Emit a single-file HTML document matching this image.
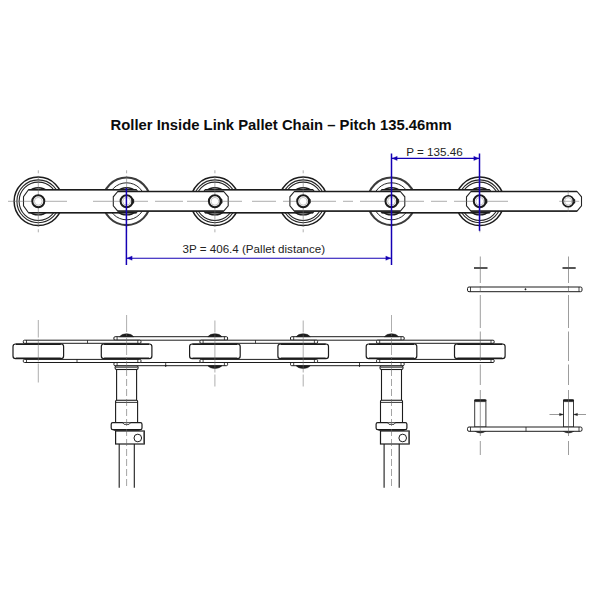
<!DOCTYPE html>
<html lang="en"><head><meta charset="utf-8"><title>Roller Inside Link Pallet Chain</title>
<style>
html,body{margin:0;padding:0;background:#fff;}
body{width:600px;height:600px;overflow:hidden;position:relative;font-family:"Liberation Sans",Arial,sans-serif;color:#111;}
svg{position:absolute;left:0;top:0;display:block}
.t{position:absolute;white-space:nowrap;line-height:1;}
#title{left:110.5px;top:118px;font-size:14.83px;font-weight:bold;color:#0c0c0c;}
#d1{left:406.3px;top:146.1px;font-size:11.65px;color:#222;}
#d2{left:182.6px;top:243.2px;font-size:11.6px;color:#222;}
</style></head><body>
<svg width="600" height="600" viewBox="0 0 600 600">
<rect width="600" height="600" fill="#fff"/>
<g id="topview">
<circle cx="38.30" cy="201.30" r="24.2" stroke="#1c1c1c" stroke-width="1.5" fill="#fff"/>
<circle cx="38.30" cy="201.30" r="21.4" stroke="#262626" stroke-width="1.1" fill="none"/>
<circle cx="38.30" cy="201.30" r="19.2" stroke="#262626" stroke-width="1.1" fill="none"/>
<circle cx="38.30" cy="201.30" r="13.6" stroke="#1c1c1c" stroke-width="1.4" fill="none"/>
<circle cx="126.60" cy="201.30" r="23.8" stroke="#3c3c3c" stroke-width="2.1" fill="#fff"/>
<circle cx="126.60" cy="201.30" r="18.5" stroke="#2a2a2a" stroke-width="1.0" fill="none"/>
<circle cx="126.60" cy="201.30" r="13.6" stroke="#1c1c1c" stroke-width="1.4" fill="none"/>
<circle cx="214.90" cy="201.30" r="24.2" stroke="#1c1c1c" stroke-width="1.5" fill="#fff"/>
<circle cx="214.90" cy="201.30" r="21.4" stroke="#262626" stroke-width="1.1" fill="none"/>
<circle cx="214.90" cy="201.30" r="19.2" stroke="#262626" stroke-width="1.1" fill="none"/>
<circle cx="214.90" cy="201.30" r="13.6" stroke="#1c1c1c" stroke-width="1.4" fill="none"/>
<circle cx="303.20" cy="201.30" r="24.2" stroke="#1c1c1c" stroke-width="1.5" fill="#fff"/>
<circle cx="303.20" cy="201.30" r="21.4" stroke="#262626" stroke-width="1.1" fill="none"/>
<circle cx="303.20" cy="201.30" r="19.2" stroke="#262626" stroke-width="1.1" fill="none"/>
<circle cx="303.20" cy="201.30" r="13.6" stroke="#1c1c1c" stroke-width="1.4" fill="none"/>
<circle cx="391.50" cy="201.30" r="23.8" stroke="#3c3c3c" stroke-width="2.1" fill="#fff"/>
<circle cx="391.50" cy="201.30" r="18.5" stroke="#2a2a2a" stroke-width="1.0" fill="none"/>
<circle cx="391.50" cy="201.30" r="13.6" stroke="#1c1c1c" stroke-width="1.4" fill="none"/>
<circle cx="479.80" cy="201.30" r="24.2" stroke="#1c1c1c" stroke-width="1.5" fill="#fff"/>
<circle cx="479.80" cy="201.30" r="21.4" stroke="#262626" stroke-width="1.1" fill="none"/>
<circle cx="479.80" cy="201.30" r="19.2" stroke="#262626" stroke-width="1.1" fill="none"/>
<circle cx="479.80" cy="201.30" r="13.6" stroke="#1c1c1c" stroke-width="1.4" fill="none"/>
<path d="M28.50,189.80 L136.40,189.80 L141.40,196.80 L141.40,205.80 L136.40,212.80 L28.50,212.80 L23.50,205.80 L23.50,196.80 Z" stroke="#262626" stroke-width="1.1" fill="#fff" />
<line x1="28.50" y1="189.80" x2="136.40" y2="189.80" stroke="#1c1c1c" stroke-width="1.5" />
<line x1="28.50" y1="212.80" x2="136.40" y2="212.80" stroke="#1c1c1c" stroke-width="1.5" />
<path d="M205.10,189.80 L313.00,189.80 L318.00,196.80 L318.00,205.80 L313.00,212.80 L205.10,212.80 L200.10,205.80 L200.10,196.80 Z" stroke="#262626" stroke-width="1.1" fill="#fff" />
<line x1="205.10" y1="189.80" x2="313.00" y2="189.80" stroke="#1c1c1c" stroke-width="1.5" />
<line x1="205.10" y1="212.80" x2="313.00" y2="212.80" stroke="#1c1c1c" stroke-width="1.5" />
<path d="M381.70,189.80 L489.60,189.80 L494.60,196.80 L494.60,205.80 L489.60,212.80 L381.70,212.80 L376.70,205.80 L376.70,196.80 Z" stroke="#262626" stroke-width="1.1" fill="#fff" />
<line x1="381.70" y1="189.80" x2="489.60" y2="189.80" stroke="#1c1c1c" stroke-width="1.5" />
<line x1="381.70" y1="212.80" x2="489.60" y2="212.80" stroke="#1c1c1c" stroke-width="1.5" />
<path d="M117.80,191.50 L223.70,191.50 L228.20,196.80 L228.20,205.80 L223.70,211.10 L117.80,211.10 L113.30,205.80 L113.30,196.80 Z" stroke="#262626" stroke-width="1.1" fill="#fff" />
<line x1="117.80" y1="191.50" x2="223.70" y2="191.50" stroke="#1c1c1c" stroke-width="1.4" />
<line x1="117.80" y1="211.10" x2="223.70" y2="211.10" stroke="#1c1c1c" stroke-width="1.4" />
<path d="M294.40,191.50 L400.30,191.50 L404.80,196.80 L404.80,205.80 L400.30,211.10 L294.40,211.10 L289.90,205.80 L289.90,196.80 Z" stroke="#262626" stroke-width="1.1" fill="#fff" />
<line x1="294.40" y1="191.50" x2="400.30" y2="191.50" stroke="#1c1c1c" stroke-width="1.4" />
<line x1="294.40" y1="211.10" x2="400.30" y2="211.10" stroke="#1c1c1c" stroke-width="1.4" />
<path d="M471.00,191.50 L577.00,191.50 L581.50,196.80 L581.50,205.80 L577.00,211.10 L471.00,211.10 L466.50,205.80 L466.50,196.80 Z" stroke="#262626" stroke-width="1.1" fill="#fff" />
<line x1="471.00" y1="191.50" x2="577.00" y2="191.50" stroke="#1c1c1c" stroke-width="1.4" />
<line x1="471.00" y1="211.10" x2="577.00" y2="211.10" stroke="#1c1c1c" stroke-width="1.4" />
<line x1="8.00" y1="201.30" x2="67.00" y2="201.30" stroke="#6a6a6a" stroke-width="0.55" />
<line x1="93.00" y1="201.30" x2="148.00" y2="201.30" stroke="#6a6a6a" stroke-width="0.55" />
<line x1="155.00" y1="201.30" x2="183.00" y2="201.30" stroke="#6a6a6a" stroke-width="0.55" />
<line x1="187.00" y1="201.30" x2="242.00" y2="201.30" stroke="#6a6a6a" stroke-width="0.55" />
<line x1="252.00" y1="201.30" x2="276.00" y2="201.30" stroke="#6a6a6a" stroke-width="0.55" />
<line x1="283.00" y1="201.30" x2="336.00" y2="201.30" stroke="#6a6a6a" stroke-width="0.55" />
<line x1="343.00" y1="201.30" x2="353.00" y2="201.30" stroke="#6a6a6a" stroke-width="0.55" />
<line x1="360.00" y1="201.30" x2="424.00" y2="201.30" stroke="#6a6a6a" stroke-width="0.55" />
<line x1="431.00" y1="201.30" x2="447.00" y2="201.30" stroke="#6a6a6a" stroke-width="0.55" />
<line x1="454.00" y1="201.30" x2="508.00" y2="201.30" stroke="#6a6a6a" stroke-width="0.55" />
<line x1="38.30" y1="175.80" x2="38.30" y2="226.80" stroke="#6a6a6a" stroke-width="0.55" />
<line x1="38.30" y1="170.30" x2="38.30" y2="173.30" stroke="#6a6a6a" stroke-width="0.55" />
<line x1="38.30" y1="229.30" x2="38.30" y2="232.30" stroke="#6a6a6a" stroke-width="0.55" />
<line x1="126.60" y1="175.80" x2="126.60" y2="226.80" stroke="#6a6a6a" stroke-width="0.55" />
<line x1="126.60" y1="170.30" x2="126.60" y2="173.30" stroke="#6a6a6a" stroke-width="0.55" />
<line x1="126.60" y1="229.30" x2="126.60" y2="232.30" stroke="#6a6a6a" stroke-width="0.55" />
<line x1="214.90" y1="175.80" x2="214.90" y2="226.80" stroke="#6a6a6a" stroke-width="0.55" />
<line x1="214.90" y1="170.30" x2="214.90" y2="173.30" stroke="#6a6a6a" stroke-width="0.55" />
<line x1="214.90" y1="229.30" x2="214.90" y2="232.30" stroke="#6a6a6a" stroke-width="0.55" />
<line x1="303.20" y1="175.80" x2="303.20" y2="226.80" stroke="#6a6a6a" stroke-width="0.55" />
<line x1="303.20" y1="170.30" x2="303.20" y2="173.30" stroke="#6a6a6a" stroke-width="0.55" />
<line x1="303.20" y1="229.30" x2="303.20" y2="232.30" stroke="#6a6a6a" stroke-width="0.55" />
<line x1="391.50" y1="175.80" x2="391.50" y2="226.80" stroke="#6a6a6a" stroke-width="0.55" />
<line x1="391.50" y1="170.30" x2="391.50" y2="173.30" stroke="#6a6a6a" stroke-width="0.55" />
<line x1="391.50" y1="229.30" x2="391.50" y2="232.30" stroke="#6a6a6a" stroke-width="0.55" />
<line x1="479.80" y1="175.80" x2="479.80" y2="226.80" stroke="#6a6a6a" stroke-width="0.55" />
<line x1="479.80" y1="170.30" x2="479.80" y2="173.30" stroke="#6a6a6a" stroke-width="0.55" />
<line x1="479.80" y1="229.30" x2="479.80" y2="232.30" stroke="#6a6a6a" stroke-width="0.55" />
<line x1="568.20" y1="190.00" x2="568.20" y2="212.00" stroke="#6a6a6a" stroke-width="0.5" />
<circle cx="38.30" cy="201.30" r="6.0" stroke="#1c1c1c" stroke-width="2.0" fill="#fff"/>
<circle cx="38.30" cy="201.30" r="3.9" stroke="#888" stroke-width="0.5" fill="none"/>
<circle cx="126.60" cy="201.30" r="6.0" stroke="#1c1c1c" stroke-width="2.0" fill="#fff"/>
<circle cx="126.60" cy="201.30" r="3.9" stroke="#888" stroke-width="0.5" fill="none"/>
<path d="M131.60,198.30 L133.90,199.50 L133.90,203.10 L131.60,204.30 Z" stroke="#1c1c1c" stroke-width="0.4" fill="#1c1c1c" />
<circle cx="214.90" cy="201.30" r="6.0" stroke="#1c1c1c" stroke-width="2.0" fill="#fff"/>
<circle cx="214.90" cy="201.30" r="3.9" stroke="#888" stroke-width="0.5" fill="none"/>
<path d="M219.90,198.30 L222.20,199.50 L222.20,203.10 L219.90,204.30 Z" stroke="#1c1c1c" stroke-width="0.4" fill="#1c1c1c" />
<circle cx="303.20" cy="201.30" r="6.0" stroke="#1c1c1c" stroke-width="2.0" fill="#fff"/>
<circle cx="303.20" cy="201.30" r="3.9" stroke="#888" stroke-width="0.5" fill="none"/>
<path d="M308.20,198.30 L310.50,199.50 L310.50,203.10 L308.20,204.30 Z" stroke="#1c1c1c" stroke-width="0.4" fill="#1c1c1c" />
<circle cx="391.50" cy="201.30" r="6.0" stroke="#1c1c1c" stroke-width="2.0" fill="#fff"/>
<circle cx="391.50" cy="201.30" r="3.9" stroke="#888" stroke-width="0.5" fill="none"/>
<path d="M396.50,198.30 L398.80,199.50 L398.80,203.10 L396.50,204.30 Z" stroke="#1c1c1c" stroke-width="0.4" fill="#1c1c1c" />
<circle cx="479.80" cy="201.30" r="6.0" stroke="#1c1c1c" stroke-width="2.0" fill="#fff"/>
<circle cx="479.80" cy="201.30" r="3.9" stroke="#888" stroke-width="0.5" fill="none"/>
<path d="M484.80,198.30 L487.10,199.50 L487.10,203.10 L484.80,204.30 Z" stroke="#1c1c1c" stroke-width="0.4" fill="#1c1c1c" />
<circle cx="568.20" cy="201.30" r="5.5" stroke="#1c1c1c" stroke-width="1.6" fill="#fff"/>
<circle cx="568.20" cy="201.30" r="3.7" stroke="#888" stroke-width="0.5" fill="none"/>
<path d="M572.80,198.50 L575.00,199.50 L575.00,203.10 L572.80,204.10 Z" stroke="#1c1c1c" stroke-width="0.4" fill="#1c1c1c" />
<line x1="559.20" y1="201.30" x2="579.20" y2="201.30" stroke="#6a6a6a" stroke-width="0.5" />
</g>
<g id="sideview">
<rect x="115.10" y="365.70" width="23.00" height="3.80" rx="1.5" stroke="#1c1c1c" stroke-width="1.1" fill="#fff"/>
<line x1="115.60" y1="367.20" x2="137.60" y2="367.20" stroke="#1c1c1c" stroke-width="0.9" />
<rect x="116.60" y="369.50" width="20.00" height="31.00" rx="0" stroke="#1c1c1c" stroke-width="1.1" fill="#fff"/>
<rect x="115.60" y="400.30" width="22.00" height="22.40" rx="1" stroke="#1c1c1c" stroke-width="1.1" fill="#fff"/>
<line x1="115.60" y1="402.40" x2="137.60" y2="402.40" stroke="#1c1c1c" stroke-width="0.9" />
<rect x="111.20" y="422.70" width="30.80" height="7.00" rx="1.6" stroke="#1c1c1c" stroke-width="1.2" fill="#fff"/>
<path d="M122.60,422.7 L124.10,424.3 L129.10,424.3 L130.60,422.7" stroke="#1c1c1c" stroke-width="0.9" fill="#fff" />
<rect x="115.60" y="431.00" width="28.70" height="13.00" rx="0" stroke="#1c1c1c" stroke-width="1.2" fill="#fff"/>
<line x1="113.60" y1="430.40" x2="139.60" y2="430.40" stroke="#1c1c1c" stroke-width="0.8" />
<circle cx="137.80" cy="438.00" r="3.8" stroke="#1c1c1c" stroke-width="1.0" fill="#fff"/>
<line x1="143.60" y1="432.00" x2="143.60" y2="443.00" stroke="#666" stroke-width="0.8" />
<line x1="119.20" y1="444.00" x2="119.20" y2="487.70" stroke="#1c1c1c" stroke-width="1.1" />
<line x1="134.30" y1="444.00" x2="134.30" y2="487.70" stroke="#1c1c1c" stroke-width="1.1" />
<line x1="126.60" y1="369.00" x2="126.60" y2="487.00" stroke="#666" stroke-width="0.6" stroke-dasharray="7 3"/>
<rect x="380.00" y="365.70" width="23.00" height="3.80" rx="1.5" stroke="#1c1c1c" stroke-width="1.1" fill="#fff"/>
<line x1="380.50" y1="367.20" x2="402.50" y2="367.20" stroke="#1c1c1c" stroke-width="0.9" />
<rect x="381.50" y="369.50" width="20.00" height="31.00" rx="0" stroke="#1c1c1c" stroke-width="1.1" fill="#fff"/>
<rect x="380.50" y="400.30" width="22.00" height="22.40" rx="1" stroke="#1c1c1c" stroke-width="1.1" fill="#fff"/>
<line x1="380.50" y1="402.40" x2="402.50" y2="402.40" stroke="#1c1c1c" stroke-width="0.9" />
<rect x="376.10" y="422.70" width="30.80" height="7.00" rx="1.6" stroke="#1c1c1c" stroke-width="1.2" fill="#fff"/>
<path d="M387.50,422.7 L389.00,424.3 L394.00,424.3 L395.50,422.7" stroke="#1c1c1c" stroke-width="0.9" fill="#fff" />
<rect x="380.50" y="431.00" width="28.70" height="13.00" rx="0" stroke="#1c1c1c" stroke-width="1.2" fill="#fff"/>
<line x1="378.50" y1="430.40" x2="404.50" y2="430.40" stroke="#1c1c1c" stroke-width="0.8" />
<circle cx="402.70" cy="438.00" r="3.8" stroke="#1c1c1c" stroke-width="1.0" fill="#fff"/>
<line x1="408.50" y1="432.00" x2="408.50" y2="443.00" stroke="#666" stroke-width="0.8" />
<line x1="384.10" y1="444.00" x2="384.10" y2="487.70" stroke="#1c1c1c" stroke-width="1.1" />
<line x1="399.20" y1="444.00" x2="399.20" y2="487.70" stroke="#1c1c1c" stroke-width="1.1" />
<line x1="391.50" y1="369.00" x2="391.50" y2="487.00" stroke="#666" stroke-width="0.6" stroke-dasharray="7 3"/>
<rect x="113.90" y="336.70" width="113.70" height="3.50" rx="1.2" stroke="#1c1c1c" stroke-width="1.0" fill="#fff"/>
<line x1="117.10" y1="336.70" x2="117.10" y2="340.20" stroke="#1c1c1c" stroke-width="0.8" />
<line x1="224.40" y1="336.70" x2="224.40" y2="340.20" stroke="#1c1c1c" stroke-width="0.8" />
<rect x="113.90" y="362.50" width="113.70" height="3.20" rx="1.2" stroke="#1c1c1c" stroke-width="1.0" fill="#fff"/>
<line x1="117.10" y1="362.50" x2="117.10" y2="365.70" stroke="#1c1c1c" stroke-width="0.8" />
<line x1="224.40" y1="362.50" x2="224.40" y2="365.70" stroke="#1c1c1c" stroke-width="0.8" />
<rect x="290.50" y="336.70" width="113.70" height="3.50" rx="1.2" stroke="#1c1c1c" stroke-width="1.0" fill="#fff"/>
<line x1="293.70" y1="336.70" x2="293.70" y2="340.20" stroke="#1c1c1c" stroke-width="0.8" />
<line x1="401.00" y1="336.70" x2="401.00" y2="340.20" stroke="#1c1c1c" stroke-width="0.8" />
<rect x="290.50" y="362.50" width="113.70" height="3.20" rx="1.2" stroke="#1c1c1c" stroke-width="1.0" fill="#fff"/>
<line x1="293.70" y1="362.50" x2="293.70" y2="365.70" stroke="#1c1c1c" stroke-width="0.8" />
<line x1="401.00" y1="362.50" x2="401.00" y2="365.70" stroke="#1c1c1c" stroke-width="0.8" />
<rect x="23.30" y="340.20" width="117.70" height="3.10" rx="1.2" stroke="#1c1c1c" stroke-width="1.0" fill="#fff"/>
<line x1="26.50" y1="340.20" x2="26.50" y2="343.30" stroke="#1c1c1c" stroke-width="0.8" />
<line x1="137.80" y1="340.20" x2="137.80" y2="343.30" stroke="#1c1c1c" stroke-width="0.8" />
<rect x="23.30" y="359.40" width="117.70" height="3.10" rx="1.2" stroke="#1c1c1c" stroke-width="1.0" fill="#fff"/>
<line x1="26.50" y1="359.40" x2="26.50" y2="362.50" stroke="#1c1c1c" stroke-width="0.8" />
<line x1="137.80" y1="359.40" x2="137.80" y2="362.50" stroke="#1c1c1c" stroke-width="0.8" />
<rect x="199.90" y="340.20" width="117.70" height="3.10" rx="1.2" stroke="#1c1c1c" stroke-width="1.0" fill="#fff"/>
<line x1="203.10" y1="340.20" x2="203.10" y2="343.30" stroke="#1c1c1c" stroke-width="0.8" />
<line x1="314.40" y1="340.20" x2="314.40" y2="343.30" stroke="#1c1c1c" stroke-width="0.8" />
<rect x="199.90" y="359.40" width="117.70" height="3.10" rx="1.2" stroke="#1c1c1c" stroke-width="1.0" fill="#fff"/>
<line x1="203.10" y1="359.40" x2="203.10" y2="362.50" stroke="#1c1c1c" stroke-width="0.8" />
<line x1="314.40" y1="359.40" x2="314.40" y2="362.50" stroke="#1c1c1c" stroke-width="0.8" />
<rect x="376.50" y="340.20" width="117.70" height="3.10" rx="1.2" stroke="#1c1c1c" stroke-width="1.0" fill="#fff"/>
<line x1="379.70" y1="340.20" x2="379.70" y2="343.30" stroke="#1c1c1c" stroke-width="0.8" />
<line x1="491.00" y1="340.20" x2="491.00" y2="343.30" stroke="#1c1c1c" stroke-width="0.8" />
<rect x="376.50" y="359.40" width="117.70" height="3.10" rx="1.2" stroke="#1c1c1c" stroke-width="1.0" fill="#fff"/>
<line x1="379.70" y1="359.40" x2="379.70" y2="362.50" stroke="#1c1c1c" stroke-width="0.8" />
<line x1="491.00" y1="359.40" x2="491.00" y2="362.50" stroke="#1c1c1c" stroke-width="0.8" />
<line x1="87.50" y1="340.20" x2="87.50" y2="343.30" stroke="#1c1c1c" stroke-width="0.8" />
<line x1="255.50" y1="340.20" x2="255.50" y2="343.30" stroke="#1c1c1c" stroke-width="0.8" />
<line x1="77.00" y1="359.40" x2="77.00" y2="362.50" stroke="#1c1c1c" stroke-width="0.8" />
<line x1="165.70" y1="362.50" x2="165.70" y2="366.70" stroke="#1c1c1c" stroke-width="0.8" />
<circle cx="165.70" cy="365.70" r="0.6" stroke="#1c1c1c" stroke-width="0.5" fill="#1c1c1c"/>
<line x1="359.50" y1="362.50" x2="359.50" y2="366.70" stroke="#1c1c1c" stroke-width="0.8" />
<circle cx="359.50" cy="365.70" r="0.6" stroke="#1c1c1c" stroke-width="0.5" fill="#1c1c1c"/>
<rect x="13.00" y="344.00" width="50.60" height="14.60" rx="2.6" stroke="#1c1c1c" stroke-width="1.2" fill="#fff"/>
<line x1="15.80" y1="344.30" x2="60.80" y2="344.30" stroke="#1c1c1c" stroke-width="1.6" />
<line x1="15.80" y1="358.30" x2="60.80" y2="358.30" stroke="#1c1c1c" stroke-width="1.6" />
<rect x="101.30" y="344.00" width="50.60" height="14.60" rx="2.6" stroke="#1c1c1c" stroke-width="1.2" fill="#fff"/>
<line x1="104.10" y1="344.30" x2="149.10" y2="344.30" stroke="#1c1c1c" stroke-width="1.6" />
<line x1="104.10" y1="358.30" x2="149.10" y2="358.30" stroke="#1c1c1c" stroke-width="1.6" />
<rect x="189.60" y="344.00" width="50.60" height="14.60" rx="2.6" stroke="#1c1c1c" stroke-width="1.2" fill="#fff"/>
<line x1="192.40" y1="344.30" x2="237.40" y2="344.30" stroke="#1c1c1c" stroke-width="1.6" />
<line x1="192.40" y1="358.30" x2="237.40" y2="358.30" stroke="#1c1c1c" stroke-width="1.6" />
<rect x="277.90" y="344.00" width="50.60" height="14.60" rx="2.6" stroke="#1c1c1c" stroke-width="1.2" fill="#fff"/>
<line x1="280.70" y1="344.30" x2="325.70" y2="344.30" stroke="#1c1c1c" stroke-width="1.6" />
<line x1="280.70" y1="358.30" x2="325.70" y2="358.30" stroke="#1c1c1c" stroke-width="1.6" />
<rect x="366.20" y="344.00" width="50.60" height="14.60" rx="2.6" stroke="#1c1c1c" stroke-width="1.2" fill="#fff"/>
<line x1="369.00" y1="344.30" x2="414.00" y2="344.30" stroke="#1c1c1c" stroke-width="1.6" />
<line x1="369.00" y1="358.30" x2="414.00" y2="358.30" stroke="#1c1c1c" stroke-width="1.6" />
<rect x="454.50" y="344.00" width="50.60" height="14.60" rx="2.6" stroke="#1c1c1c" stroke-width="1.2" fill="#fff"/>
<line x1="457.30" y1="344.30" x2="502.30" y2="344.30" stroke="#1c1c1c" stroke-width="1.6" />
<line x1="457.30" y1="358.30" x2="502.30" y2="358.30" stroke="#1c1c1c" stroke-width="1.6" />
<path d="M119.60,336.7 Q121.60,333.8 126.60,333.8 Q131.60,333.8 133.60,336.7 Z" stroke="#1c1c1c" stroke-width="0.6" fill="#1c1c1c" />
<path d="M207.90,336.7 Q209.90,333.8 214.90,333.8 Q219.90,333.8 221.90,336.7 Z" stroke="#1c1c1c" stroke-width="0.6" fill="#1c1c1c" />
<path d="M296.20,336.7 Q298.20,333.8 303.20,333.8 Q308.20,333.8 310.20,336.7 Z" stroke="#1c1c1c" stroke-width="0.6" fill="#1c1c1c" />
<path d="M384.50,336.7 Q386.50,333.8 391.50,333.8 Q396.50,333.8 398.50,336.7 Z" stroke="#1c1c1c" stroke-width="0.6" fill="#1c1c1c" />
<path d="M207.90,365.7 Q209.90,368.4 214.90,368.4 Q219.90,368.4 221.90,365.7 Z" stroke="#1c1c1c" stroke-width="0.6" fill="#1c1c1c" />
<path d="M296.20,365.7 Q298.20,368.4 303.20,368.4 Q308.20,368.4 310.20,365.7 Z" stroke="#1c1c1c" stroke-width="0.6" fill="#1c1c1c" />
<line x1="38.30" y1="320.00" x2="38.30" y2="382.50" stroke="#6a6a6a" stroke-width="0.55" stroke-dasharray="17.5 2 22 2 30"/>
<line x1="126.60" y1="315.00" x2="126.60" y2="369.00" stroke="#6a6a6a" stroke-width="0.55" stroke-dasharray="17 2 2 2"/>
<line x1="214.90" y1="320.50" x2="214.90" y2="386.50" stroke="#6a6a6a" stroke-width="0.55" stroke-dasharray="12 2 38 2 30"/>
<line x1="303.20" y1="320.50" x2="303.20" y2="386.50" stroke="#6a6a6a" stroke-width="0.55" stroke-dasharray="12 2 38 2 30"/>
<line x1="391.50" y1="315.00" x2="391.50" y2="369.00" stroke="#6a6a6a" stroke-width="0.55" stroke-dasharray="17 2 2 2"/>
</g>
<g id="exploded">
<line x1="474.00" y1="268.00" x2="487.50" y2="268.00" stroke="#1c1c1c" stroke-width="1.5" />
<line x1="562.50" y1="268.00" x2="575.70" y2="268.00" stroke="#1c1c1c" stroke-width="1.5" />
<rect x="467.50" y="287.00" width="114.50" height="4.70" rx="1.5" stroke="#1c1c1c" stroke-width="1.0" fill="#fff"/>
<line x1="470.50" y1="287.00" x2="470.50" y2="291.70" stroke="#1c1c1c" stroke-width="0.8" />
<line x1="579.00" y1="287.00" x2="579.00" y2="291.70" stroke="#1c1c1c" stroke-width="0.8" />
<circle cx="525.50" cy="289.30" r="0.7" stroke="#1c1c1c" stroke-width="0.5" fill="#1c1c1c"/>
<rect x="474.70" y="400.00" width="11.20" height="27.00" rx="0" stroke="#333" stroke-width="0.95" fill="#fff"/>
<rect x="474.70" y="399.70" width="11.20" height="1.90" rx="0.8" stroke="#1c1c1c" stroke-width="0.7" fill="#1c1c1c"/>
<path d="M474.80,431.2 Q480.30,434.6 485.80,431.2 Z" stroke="#1c1c1c" stroke-width="0.6" fill="#1c1c1c" />
<rect x="563.50" y="400.00" width="10.00" height="27.00" rx="0" stroke="#333" stroke-width="0.95" fill="#fff"/>
<rect x="563.50" y="399.70" width="10.00" height="1.90" rx="0.8" stroke="#1c1c1c" stroke-width="0.7" fill="#1c1c1c"/>
<path d="M563.00,431.2 Q568.50,434.6 574.00,431.2 Z" stroke="#1c1c1c" stroke-width="0.6" fill="#1c1c1c" />
<rect x="467.50" y="427.00" width="114.50" height="4.30" rx="1.5" stroke="#1c1c1c" stroke-width="1.0" fill="#fff"/>
<line x1="470.50" y1="427.00" x2="470.50" y2="431.30" stroke="#1c1c1c" stroke-width="0.8" />
<line x1="579.00" y1="427.00" x2="579.00" y2="431.30" stroke="#1c1c1c" stroke-width="0.8" />
<line x1="526.00" y1="427.00" x2="526.00" y2="431.30" stroke="#1c1c1c" stroke-width="0.8" />
<line x1="480.30" y1="256.50" x2="480.30" y2="455.00" stroke="#5a5a5a" stroke-width="0.6" stroke-dasharray="26.5 3 6 3 33 3.5 29.5 3.5 20.5 5 46 5 14"/>
<line x1="568.50" y1="256.50" x2="568.50" y2="455.00" stroke="#5a5a5a" stroke-width="0.6" stroke-dasharray="26.5 3 6 3 33 3.5 29.5 3.5 20.5 5 46 5 14"/>
<line x1="549.50" y1="414.50" x2="563.50" y2="414.50" stroke="#555" stroke-width="0.6" />
<line x1="573.50" y1="414.50" x2="586.00" y2="414.50" stroke="#555" stroke-width="0.6" />
<path d="M563.50,414.5 l-4,-1.2 l0,2.4 Z" stroke="#1c1c1c" stroke-width="0.3" fill="#1c1c1c" />
<path d="M573.50,414.5 l4,-1.2 l0,2.4 Z" stroke="#1c1c1c" stroke-width="0.3" fill="#1c1c1c" />
</g>
<g id="dims">
<line x1="126.40" y1="188.00" x2="126.40" y2="265.00" stroke="#1400b4" stroke-width="1.5" />
<line x1="391.50" y1="153.50" x2="391.50" y2="265.00" stroke="#1400b4" stroke-width="1.5" />
<line x1="479.50" y1="153.50" x2="479.50" y2="230.80" stroke="#1400b4" stroke-width="1.5" />
<line x1="126.60" y1="258.20" x2="391.50" y2="258.20" stroke="#1400b4" stroke-width="1.1" />
<line x1="391.50" y1="158.40" x2="479.80" y2="158.40" stroke="#1400b4" stroke-width="1.1" />
<path d="M127.10,258.2 l5,-2.1 l0,4.2 Z" stroke="#1400b4" stroke-width="0.3" fill="#1400b4" />
<path d="M390.80,258.2 l-5,-2.1 l0,4.2 Z" stroke="#1400b4" stroke-width="0.3" fill="#1400b4" />
<path d="M392.20,158.4 l5,-2.1 l0,4.2 Z" stroke="#1400b4" stroke-width="0.3" fill="#1400b4" />
<path d="M478.80,158.4 l-5,-2.1 l0,4.2 Z" stroke="#1400b4" stroke-width="0.3" fill="#1400b4" />
</g>
</svg>
<div class="t" id="title">Roller Inside Link Pallet Chain – Pitch 135.46mm</div>
<div class="t" id="d1">P = 135.46</div>
<div class="t" id="d2">3P = 406.4 (Pallet distance)</div>
</body></html>
